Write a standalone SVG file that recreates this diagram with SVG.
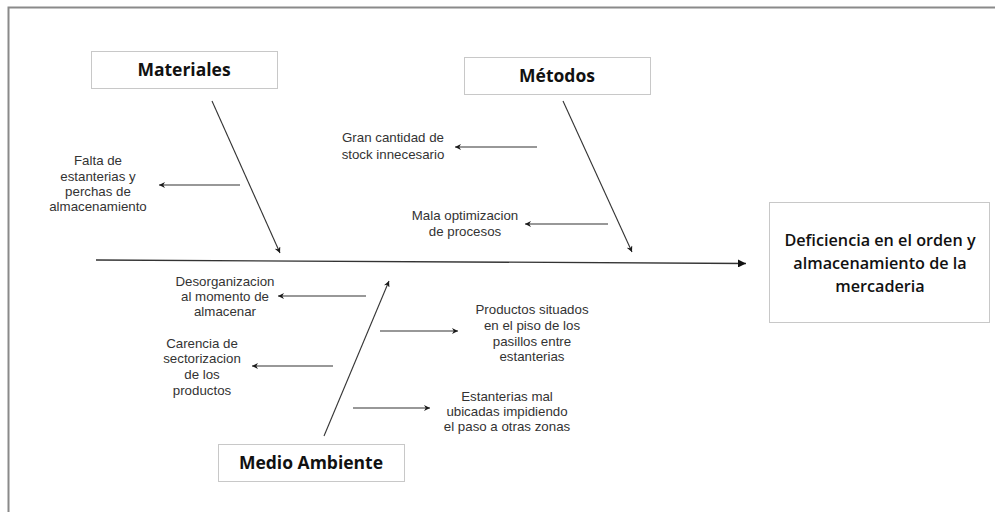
<svg xmlns="http://www.w3.org/2000/svg" width="995" height="512" viewBox="0 0 995 512">
  <defs>
    <marker id="head" viewBox="0 0 10 10" refX="10" refY="5" markerWidth="8" markerHeight="6" markerUnits="userSpaceOnUse" orient="auto">
      <path d="M0,0 L10,5 L0,10 L3,5 Z" fill="#1a1a1a"/>
    </marker>
    <marker id="spinehead" viewBox="0 0 10 10" refX="10" refY="5" markerWidth="9" markerHeight="8" markerUnits="userSpaceOnUse" orient="auto">
      <path d="M0,0 L10,5 L0,10 Z" fill="#111"/>
    </marker>
  </defs>
  <style>
    .frame { stroke: #8a8a8a; stroke-width: 2; fill: none; }
    .box { fill: #fff; stroke: #c8c8c8; stroke-width: 1; }
    .title { font-family: "Open Sans", "Liberation Sans", sans-serif; font-weight: bold; font-size: 17.5px; fill: #111; text-anchor: middle; }
    .effect { font-family: "Open Sans", "Liberation Sans", sans-serif; font-weight: 600; font-size: 16.2px; fill: #111; text-anchor: middle; }
    .cause { font-family: "Liberation Sans", Arial, sans-serif; font-size: 13.3px; fill: #333; text-anchor: middle; }
    .bone { stroke: #333; stroke-width: 1.1; fill: none; marker-end: url(#head); }
    .spine { stroke: #333; stroke-width: 1.3; fill: none; marker-end: url(#spinehead); }
  </style>
  <rect width="995" height="512" fill="#fff"/>
  <!-- page border (top and left edges) -->
  <path class="frame" d="M8.5,512 V7.5 H995"/>

  <g id="connectors">
    <!-- main spine -->
    <line class="spine" x1="96" y1="260" x2="746" y2="263.5"/>
    <!-- category bones -->
    <line class="bone" x1="212" y1="101" x2="280" y2="253"/>
    <line class="bone" x1="563" y1="101" x2="632" y2="252"/>
    <line class="bone" x1="324" y1="436" x2="389" y2="281"/>
    <!-- cause arrows -->
    <line class="bone" x1="240" y1="185" x2="159" y2="185"/>
    <line class="bone" x1="537" y1="147" x2="455" y2="147"/>
    <line class="bone" x1="608" y1="224" x2="525" y2="224"/>
    <line class="bone" x1="366" y1="296" x2="278" y2="296"/>
    <line class="bone" x1="333" y1="366" x2="252" y2="366"/>
    <line class="bone" x1="380" y1="331" x2="458" y2="331"/>
    <line class="bone" x1="353" y1="408" x2="430" y2="408"/>
  </g>

  <g id="materiales">
    <rect class="box" x="91.5" y="51.5" width="186" height="37"/>
    <text class="title" x="184" y="76">Materiales</text>
  </g>
  <g id="metodos">
    <rect class="box" x="464.5" y="57.5" width="186" height="37"/>
    <text class="title" x="557" y="82">Métodos</text>
  </g>
  <g id="medio-ambiente">
    <rect class="box" x="218.5" y="444.5" width="186" height="37"/>
    <text class="title" x="311" y="469">Medio Ambiente</text>
  </g>
  <g id="efecto">
    <rect class="box" x="769.5" y="202.5" width="220" height="120"/>
    <text class="effect" x="880" y="246">Deficiencia en el orden y</text>
    <text class="effect" x="880" y="269">almacenamiento de la</text>
    <text class="effect" x="880" y="292">mercaderia</text>
  </g>

  <g id="causa-falta">
    <text class="cause" x="98" y="165">Falta de</text>
    <text class="cause" x="98" y="180.5">estanterias y</text>
    <text class="cause" x="98" y="196">perchas de</text>
    <text class="cause" x="98" y="211">almacenamiento</text>
  </g>
  <g id="causa-gran-cantidad">
    <text class="cause" x="393" y="142">Gran cantidad de</text>
    <text class="cause" x="393" y="159">stock innecesario</text>
  </g>
  <g id="causa-mala-optimizacion">
    <text class="cause" x="465" y="219.5">Mala optimizacion</text>
    <text class="cause" x="465" y="236">de procesos</text>
  </g>
  <g id="causa-desorganizacion">
    <text class="cause" x="225" y="285.5">Desorganizacion</text>
    <text class="cause" x="225" y="300.5">al momento de</text>
    <text class="cause" x="225" y="315.5">almacenar</text>
  </g>
  <g id="causa-carencia">
    <text class="cause" x="202" y="347.5">Carencia de</text>
    <text class="cause" x="202" y="363">sectorizacion</text>
    <text class="cause" x="202" y="379">de los</text>
    <text class="cause" x="202" y="394.5">productos</text>
  </g>
  <g id="causa-productos">
    <text class="cause" x="532" y="313.5">Productos situados</text>
    <text class="cause" x="532" y="329.5">en el piso de los</text>
    <text class="cause" x="532" y="345.5">pasillos entre</text>
    <text class="cause" x="532" y="360.5">estanterias</text>
  </g>
  <g id="causa-estanterias">
    <text class="cause" x="507" y="400.5">Estanterias mal</text>
    <text class="cause" x="507" y="415.5">ubicadas impidiendo</text>
    <text class="cause" x="507" y="430.5">el paso a otras zonas</text>
  </g>
</svg>
